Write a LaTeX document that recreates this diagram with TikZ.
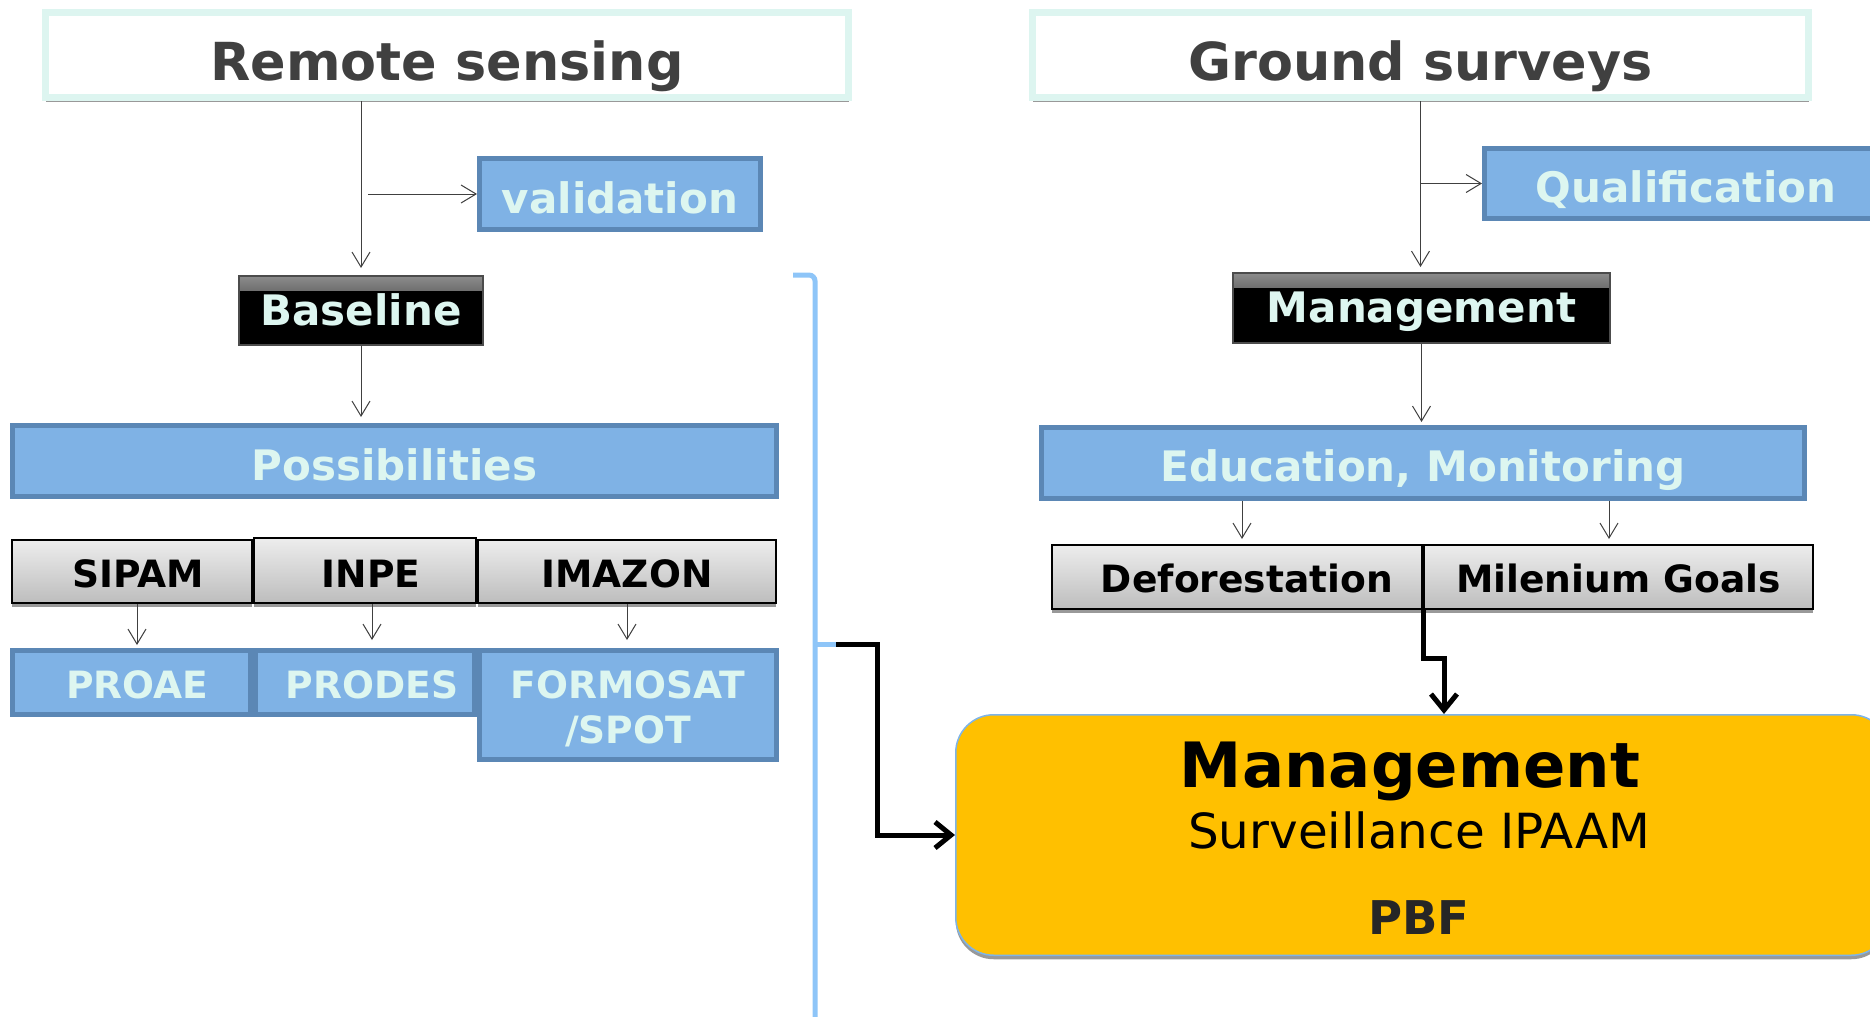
\documentclass[tikz,border=0pt]{standalone}
\usepackage{fontspec}
\setmainfont{DejaVu Sans}
\usetikzlibrary{arrows.meta,shadows,calc}
\definecolor{bluefill}{HTML}{7FB2E5}
\definecolor{blueedge}{HTML}{5B87B5}
\definecolor{pale}{HTML}{DDF6F0}
\definecolor{titleedge}{HTML}{DDF5F0}
\definecolor{titletxt}{HTML}{404040}
\definecolor{brk}{HTML}{8EC5F8}
\definecolor{yel}{HTML}{FFC000}
\definecolor{yeledge}{HTML}{7EB4E8}
\definecolor{gtop}{HTML}{EDEDED}
\definecolor{gbot}{HTML}{BDBDBD}
\definecolor{pbfc}{HTML}{262626}
\definecolor{linec}{HTML}{404040}
\tikzset{
  shad/.style={drop shadow={shadow xshift=0pt,shadow yshift=-2pt,fill=black!40,opacity=1}},
  titlebox/.style={draw=titleedge, line width=3.5pt, fill=white, inner sep=0pt, text=titletxt,
    font=\fontsize{26.2}{31}\selectfont\bfseries, text height=25pt, text depth=0pt, shad},
  bluebox/.style={draw=blueedge, line width=2.5pt, fill=bluefill, inner sep=0pt, text=pale,
    font=\fontsize{21}{25}\selectfont\bfseries, text depth=0pt},
  smallblue/.style={bluebox, font=\fontsize{18.8}{22.5}\selectfont\bfseries},
  blackbox/.style={draw=black!70, line width=1pt, fill=black, inner sep=0pt, text=pale,
    font=\fontsize{21}{25}\selectfont\bfseries, text depth=0pt,
    path picture={\shade[top color=black!45,bottom color=black]
      (path picture bounding box.north west) rectangle ([yshift=-7pt]path picture bounding box.north east);}},
  graybox/.style={draw=black, line width=1pt, top color=gtop, bottom color=gbot, inner sep=0pt,
    text=black, font=\fontsize{18.8}{22.5}\selectfont\bfseries, text depth=0pt, shad},
  yellowbox/.style={draw=yeledge, line width=0.75pt, fill=yel, rounded corners=19pt, inner sep=0pt, shad},
  thinarr/.style={draw=linec, line width=0.5pt, -{Straight Barb[length=7.5pt,width=9pt]}},
  thickarr/.style={draw=black, line width=2.5pt, -{Straight Barb[length=8pt,width=13pt]}},
  bracketline/.style={draw=brk, line width=2.5pt, rounded corners=3pt},
}
\begin{document}
\begin{tikzpicture}[x=0.5pt,y=-0.5pt]
\useasboundingbox (0,0) rectangle (1870,1017);
\clip (0,0) rectangle (1870,1017);

% ---- left column ----
\node[titlebox, minimum width=401.5pt, minimum height=42.5pt] (rs) at (447,55) {Remote sensing};
\node[bluebox, minimum width=140.5pt, minimum height=35.5pt, text height=19pt] (val) at (620,194) {validation};
\node[blackbox, minimum width=122pt, minimum height=34.5pt, text height=14.5pt] (base) at (361,310.5) {Baseline};
\node[bluebox, minimum width=382pt, minimum height=35.5pt, text height=19pt] (poss) at (394.5,461) {Possibilities};

\node[graybox, minimum width=119.75pt, minimum height=31.5pt, text height=15.5pt] (sipam) at (132,571.5) {\hspace{6pt}SIPAM};
\node[graybox, minimum width=148.75pt, minimum height=31.5pt, text height=15.5pt] (imazon) at (627,571.5) {IMAZON};
\node[graybox, minimum width=111.25pt, minimum height=32.5pt, text height=16.5pt] (inpe) at (365,570.5) {\hspace{6pt}INPE};

\node[smallblue, minimum width=119pt, minimum height=32pt, text height=15.5pt] (proae) at (131.5,682.5) {\hspace{6pt}PROAE};
\node[smallblue, minimum width=109.75pt, minimum height=32pt, text height=15.5pt] (prodes) at (365,682.5) {\hspace{7pt}PRODES};
\node[smallblue, minimum width=148.25pt, minimum height=54.5pt, align=center, text height=38pt] (formosat) at (628,705) {FORMOSAT\\/SPOT};

% ---- right column ----
\node[titlebox, minimum width=388pt, minimum height=42.5pt] (gs) at (1420.5,55) {Ground surveys};
\node[bluebox, minimum width=201.5pt, minimum height=35pt, text height=18.5pt] (qual) at (1686,183.5) {Qualification};
\node[blackbox, minimum width=188.5pt, minimum height=35pt, text height=14pt] (mg) at (1421.5,308) {Management};
\node[bluebox, minimum width=381.5pt, minimum height=35.5pt, text height=18pt] (edu) at (1423,463) {Education, Monitoring};
\node[graybox, minimum width=185pt, minimum height=32pt, text height=15pt] (dfor) at (1237,577) {\hspace{10pt}Deforestation};
\node[graybox, minimum width=194.5pt, minimum height=32pt, text height=15pt] (mil) at (1618.5,577) {Milenium Goals};

% ---- yellow box ----
\node[yellowbox, minimum width=466.75pt, minimum height=120.25pt] (yb) at (1422.5,835) {};
\node[anchor=base, inner sep=0pt, font=\fontsize{31.25}{36}\selectfont\bfseries] (ybT1) at ($(yb.center)+(-12.5,-48)$) {Management};
\node[anchor=base, inner sep=0pt, font=\fontsize{24.2}{29}\selectfont] (ybT2) at ($(yb.center)+(-3.5,13)$) {Surveillance IPAAM};
\node[anchor=base, inner sep=0pt, text=pbfc, font=\fontsize{23.25}{28}\selectfont\bfseries] (ybT3) at ($(yb.center)+(-3.5,99)$) {PBF};

% ---- thin connectors ----
\draw[thinarr, shorten >=3.5pt] (base.north |- rs.south) -- (base.north);
\coordinate (vb) at (368,194);
\draw[thinarr] (vb) -- (val.west);
\draw[thinarr, shorten >=3pt] (base.south) -- (base.south |- poss.north);
\draw[thinarr, shorten >=1.5pt] ([xshift=2.5pt]sipam.south) -- ([xshift=2.5pt]sipam.south |- proae.north);
\draw[thinarr, shorten >=4pt] ([xshift=3.5pt]inpe.south) -- ([xshift=3.5pt]inpe.south |- prodes.north);
\draw[thinarr, shorten >=4pt] (imazon.south) -- (imazon.south |- formosat.north);

\draw[thinarr, shorten >=2.5pt] (gs.south) -- (gs.south |- mg.north);
\coordinate (qb) at (1420,183.5);
\draw[thinarr] (qb) -- (qual.west);
\draw[thinarr, shorten >=1.5pt] (mg.south) -- (mg.south |- edu.north);
\draw[thinarr, shorten >=2.5pt] ([xshift=2.5pt]dfor.north |- edu.south) -- ([xshift=2.5pt]dfor.north);
\draw[thinarr, shorten >=2.5pt] ([xshift=-4.75pt]mil.north |- edu.south) -- ([xshift=-4.75pt]mil.north);

% ---- bracket ----
\draw[bracketline] (793,275) -- (815,275) -- (815,1030);
\coordinate (bk) at (836,644);
\draw[draw=brk, line width=2.5pt] (815,644) -- (bk);

% ---- thick connectors ----
\draw[thickarr] (bk) -- (877,644) |- (yb.west);
\draw[thickarr] (dfor.south east) -- ++(0,48) -| ([xshift=10.75pt]yb.north);
\end{tikzpicture}
\end{document}
